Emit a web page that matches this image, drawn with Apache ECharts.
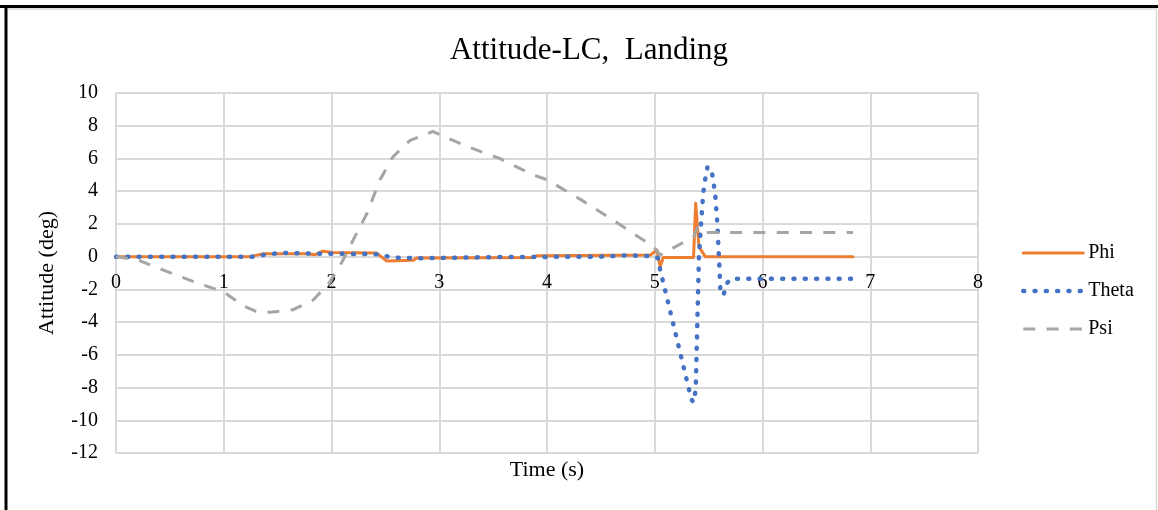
<!DOCTYPE html>
<html>
<head>
<meta charset="utf-8">
<title>Attitude-LC, Landing</title>
<script src="https://cdn.jsdelivr.net/npm/echarts@6/dist/echarts.min.js"></script>
<style>
  html, body { margin: 0; padding: 0; background: #ffffff; }
  #chart { width: 1158px; height: 510px; }
</style>
</head>
<body>
<div id="chart"></div>
<script>
// Time axis ticks and attitude axis ticks
const timeTicks = [0, 1, 2, 3, 4, 5, 6, 7, 8];
const attitudeTicks = [-12, -10, -8, -6, -4, -2, 0, 2, 4, 6, 8, 10];

// Phi (roll), deg
const phiTime   = [0, 1.24, 1.36, 1.77, 1.85, 1.92, 2.01, 2.42, 2.46, 2.51, 2.76, 2.79, 3.87, 3.9, 4.96, 5.02, 5.05, 5.08, 5.36, 5.38, 5.41, 5.47, 6.84];
const phiValues = [0, 0, 0.17, 0.17, 0.12, 0.33, 0.25, 0.22, 0.0, -0.26, -0.22, -0.08, -0.05, 0.05, 0.1, 0.4, -0.6, -0.05, -0.05, 3.27, 0.6, 0, 0];

// Theta (pitch), deg
const thetaTime   = [0, 1.3, 1.4, 1.55, 1.9, 2.45, 2.55, 2.8, 3.5, 4.5, 4.74, 5.0, 5.03, 5.05, 5.34, 5.36, 5.38, 5.41, 5.43, 5.45, 5.47, 5.49, 5.53, 5.56, 5.58, 5.60, 5.61, 5.64, 5.67, 5.71, 6.84];
const thetaValues = [0, 0, 0.15, 0.22, 0.18, 0.15, -0.05, -0.1, -0.03, 0, 0.08, 0.02, -0.1, -0.8, -8.72, -8.9, -8.15, 0, 2.0, 3.9, 4.8, 5.5, 5.2, 3.88, 2.1, -0.6, -2.3, -2.3, -1.62, -1.35, -1.35];

// Psi (yaw), deg
const psiTime   = [0, 0.2, 0.47, 0.75, 1.0, 1.18, 1.3, 1.43, 1.64, 1.83, 1.98, 2.1, 2.2, 2.33, 2.45, 2.57, 2.73, 2.94, 3.25, 3.56, 3.87, 4.0, 4.31, 4.61, 4.99, 5.05, 5.36, 5.40, 5.47, 6.84];
const psiValues = [0, -0.2, -0.9, -1.6, -2.15, -3.0, -3.35, -3.4, -3.25, -2.65, -1.6, -0.3, 1.0, 2.65, 4.7, 6.1, 7.1, 7.65, 6.75, 6.0, 5.0, 4.7, 3.5, 2.25, 0.6, 0.1, 1.2, 1.85, 1.47, 1.47];

const pairs = (xs, ys) => xs.map((x, i) => [x, ys[i]]);

const FONT = "'Liberation Serif', 'Times New Roman', serif";
const GRID_COLOR = '#d9d9d9';

// plot box
const GRID = { left: 116, right: 180, top: 93, bottom: 57 };
const plotHeight = 510 - GRID.top - GRID.bottom;
const yMin = attitudeTicks[0];
const yMax = attitudeTicks[attitudeTicks.length - 1];
// lift the time axis (line + labels) from the bottom edge up to attitude = 0
const zeroLineOffset = -plotHeight * (0 - yMin) / (yMax - yMin);

const chart = echarts.init(document.getElementById('chart'), null, { renderer: 'canvas' });

chart.setOption({
  animation: false,
  backgroundColor: '#ffffff',
  textStyle: { fontFamily: FONT },
  title: {
    text: 'Attitude-LC,  Landing',
    left: 584,
    top: 30,
    textAlign: 'center',
    textStyle: { fontFamily: FONT, fontSize: 31, fontWeight: 'normal', color: '#000000' }
  },
  legend: {
    orient: 'vertical',
    left: 1021,
    top: 243,
    padding: 0,
    itemWidth: 60,
    itemHeight: 18,
    itemGap: 18,
    itemStyle: { opacity: 0 },
    textStyle: { fontFamily: FONT, fontSize: 20, color: '#000000' },
    data: [
      { name: 'Phi', lineStyle: { width: 3 } },
      { name: 'Theta', lineStyle: { width: 4.5 } },
      { name: 'Psi', lineStyle: { width: 3 } }
    ]
  },
  grid: { left: GRID.left, right: GRID.right, top: GRID.top, bottom: GRID.bottom, containLabel: false },
  xAxis: [
    {
      type: 'value',
      min: timeTicks[0],
      max: timeTicks[timeTicks.length - 1],
      interval: 1,
      position: 'bottom',
      offset: zeroLineOffset,
      axisLine: { show: true, onZero: false, lineStyle: { color: GRID_COLOR, width: 2 } },
      axisTick: { show: false },
      axisLabel: { fontFamily: FONT, fontSize: 20, color: '#000000', margin: 16 },
      splitLine: { show: true, lineStyle: { color: GRID_COLOR, width: 2 } }
    },
    {
      type: 'value',
      min: timeTicks[0],
      max: timeTicks[timeTicks.length - 1],
      position: 'bottom',
      name: 'Time (s)',
      nameLocation: 'middle',
      nameGap: 6,
      nameTextStyle: { fontFamily: FONT, fontSize: 22, color: '#000000' },
      axisLine: { show: false, onZero: false },
      axisTick: { show: false },
      axisLabel: { show: false },
      splitLine: { show: false }
    }
  ],
  yAxis: {
    type: 'value',
    min: yMin,
    max: yMax,
    interval: 2,
    name: 'Attitude (deg)',
    nameLocation: 'middle',
    nameGap: 58,
    nameTextStyle: { fontFamily: FONT, fontSize: 22, color: '#000000' },
    axisLine: { show: false },
    axisTick: { show: false },
    axisLabel: { fontFamily: FONT, fontSize: 20, color: '#000000', margin: 18 },
    splitLine: { show: true, lineStyle: { color: GRID_COLOR, width: 2 } }
  },
  series: [
    {
      name: 'Phi',
      type: 'line',
      xAxisIndex: 0,
      data: pairs(phiTime, phiValues),
      showSymbol: false,
      symbol: 'none',
      color: '#ed7d31',
      lineStyle: { color: '#ed7d31', width: 3, cap: 'round', join: 'round' }
    },
    {
      name: 'Theta',
      type: 'line',
      xAxisIndex: 0,
      data: pairs(thetaTime, thetaValues),
      showSymbol: false,
      symbol: 'none',
      color: '#4472c4',
      lineStyle: { color: '#4472c4', width: 4.5, type: [1, 10.3], cap: 'round', join: 'round' }
    },
    {
      name: 'Psi',
      type: 'line',
      xAxisIndex: 0,
      data: pairs(psiTime, psiValues),
      showSymbol: false,
      symbol: 'none',
      color: '#a5a5a5',
      lineStyle: { color: '#a5a5a5', width: 3, type: [12, 11.3], cap: 'butt', join: 'round' }
    }
  ],
  graphic: [
    // chart-area frame: light border on top and right, dark edge on top and left
    { type: 'line', silent: true, shape: { x1: 6, y1: 9, x2: 1157, y2: 9 }, style: { stroke: GRID_COLOR, lineWidth: 1.5 } },
    { type: 'line', silent: true, shape: { x1: 1156.5, y1: 9, x2: 1156.5, y2: 510 }, style: { stroke: GRID_COLOR, lineWidth: 1.5 } },
    { type: 'line', silent: true, shape: { x1: 0, y1: 6.5, x2: 1158, y2: 6.5 }, style: { stroke: '#000000', lineWidth: 3 } },
    { type: 'line', silent: true, shape: { x1: 6, y1: 5, x2: 6, y2: 510 }, style: { stroke: '#000000', lineWidth: 3 } }
  ]
});
</script>
</body>
</html>
